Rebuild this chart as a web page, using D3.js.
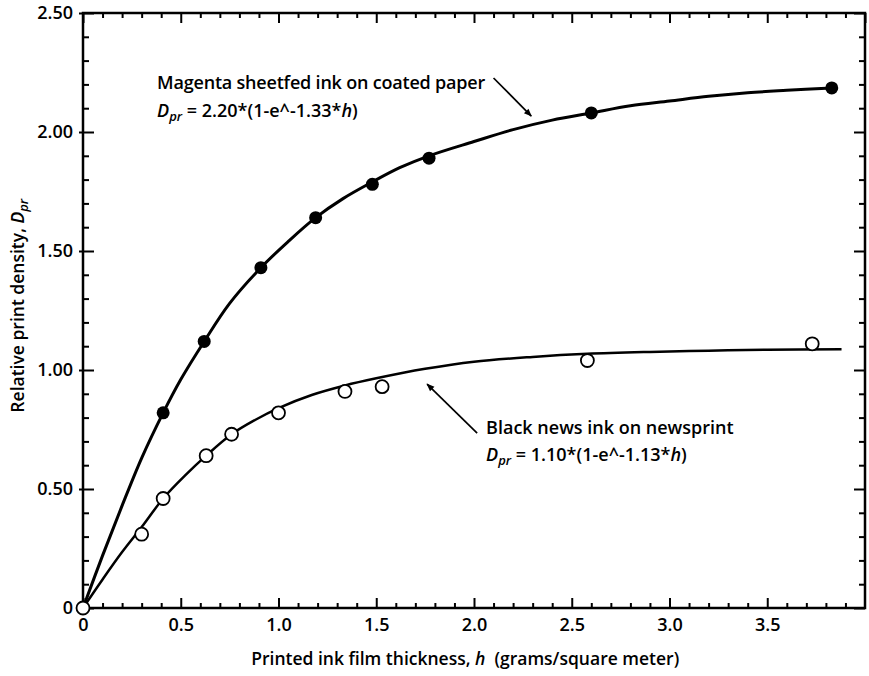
<!DOCTYPE html>
<html>
<head>
<meta charset="utf-8">
<script src="https://cdn.jsdelivr.net/npm/d3@7"></script>
<style>
  html, body { margin: 0; padding: 0; background: #fff; }
  svg { display: block; font-family: "Open Sans", "DejaVu Sans", sans-serif; }
</style>
</head>
<body>
<svg id="chart" width="869" height="676"></svg>
<script>
// ---- Data ----
// Magenta sheetfed ink on coated paper (filled circles)
const magentaH   = [0.41, 0.62, 0.91, 1.19, 1.48, 1.77, 2.60, 3.83];
const magentaD   = [0.82, 1.12, 1.43, 1.64, 1.78, 1.89, 2.08, 2.185];
// Black news ink on newsprint (open circles)
const blackH     = [0, 0.30, 0.41, 0.63, 0.76, 1.00, 1.34, 1.53, 2.58, 3.73];
const blackD     = [0, 0.31, 0.46, 0.64, 0.73, 0.82, 0.91, 0.93, 1.04, 1.11];
// Fitted curves as drawn
const magentaCurveH = [0, 0.1, 0.2, 0.3, 0.41, 0.5, 0.62, 0.75, 0.91, 1.05, 1.19, 1.33, 1.48, 1.62, 1.77, 2.0, 2.2, 2.4, 2.6, 2.8, 3.0, 3.2, 3.4, 3.6, 3.83];
const magentaCurveD = [0, 0.22, 0.43, 0.63, 0.82, 0.96, 1.12, 1.28, 1.43, 1.54, 1.64, 1.72, 1.79, 1.85, 1.90, 1.96, 2.01, 2.05, 2.08, 2.11, 2.13, 2.15, 2.165, 2.175, 2.185];
const blackCurveH   = [0, 0.1, 0.2, 0.3, 0.41, 0.52, 0.63, 0.76, 0.88, 1.0, 1.17, 1.34, 1.5, 1.75, 2.0, 2.3, 2.58, 2.9, 3.2, 3.5, 3.88];
const blackCurveD   = [0, 0.12, 0.235, 0.34, 0.46, 0.555, 0.64, 0.73, 0.79, 0.84, 0.895, 0.935, 0.965, 1.005, 1.035, 1.055, 1.068, 1.076, 1.081, 1.085, 1.087];
// Tick labels
const xTickValues = [0, 0.5, 1.0, 1.5, 2.0, 2.5, 3.0, 3.5];
const xTickLabels = ["0", "0.5", "1.0", "1.5", "2.0", "2.5", "3.0", "3.5"];
const yTickValues = [0, 0.5, 1.0, 1.5, 2.0, 2.5];
const yTickLabels = ["0", "0.50", "1.00", "1.50", "2.00", "2.50"];

const svg = d3.select("#chart");
const x = d3.scaleLinear().domain([0, 4]).range([83, 865]);
const y = d3.scaleLinear().domain([0, 2.5]).range([608, 13]);

const minorX = d3.range(0, 40).map(i => i / 10).filter(v => Math.round(v * 10) % 5 !== 0);
const minorY = d3.range(0, 25).map(i => i / 10).filter(v => Math.round(v * 10) % 5 !== 0);
const majorXAll = d3.range(0, 9).map(i => i * 0.5);
const majorYAll = d3.range(0, 6).map(i => i * 0.5);

function styleAxis(g) {
  g.selectAll("path.domain").remove();
  g.selectAll(".tick line").attr("stroke", "#000").attr("stroke-width", 2);
}

// minor ticks (inward) on all four sides
svg.append("g").attr("transform", `translate(0,${y(0)})`)
  .call(d3.axisBottom(x).tickValues(minorX).tickSize(-5).tickFormat(""))
  .call(styleAxis);
svg.append("g").attr("transform", `translate(0,${y(2.5)})`)
  .call(d3.axisTop(x).tickValues(minorX).tickSize(-5).tickFormat(""))
  .call(styleAxis);
svg.append("g").attr("transform", `translate(${x(0)},0)`)
  .call(d3.axisLeft(y).tickValues(minorY).tickSize(-6).tickFormat(""))
  .call(styleAxis);
svg.append("g").attr("transform", `translate(${x(4)},0)`)
  .call(d3.axisRight(y).tickValues(minorY).tickSize(-6).tickFormat(""))
  .call(styleAxis);

// major ticks
svg.append("g").attr("transform", `translate(0,${y(2.5)})`)
  .call(d3.axisTop(x).tickValues(majorXAll).tickSize(-10).tickFormat(""))
  .call(styleAxis);
svg.append("g").attr("transform", `translate(${x(4)},0)`)
  .call(d3.axisRight(y).tickValues(majorYAll).tickSize(-11).tickFormat(""))
  .call(styleAxis);
svg.append("g").attr("transform", `translate(0,${y(0)})`)
  .call(d3.axisBottom(x).tickValues(majorXAll.filter(v => v < 4)).tickSize(-10).tickFormat(""))
  .call(styleAxis);
svg.append("g").attr("transform", `translate(${x(0)},0)`)
  .call(d3.axisLeft(y).tickValues(majorYAll).tickSize(-11).tickFormat(""))
  .call(styleAxis);
svg.append("g").attr("transform", `translate(${x(0)},0)`)
  .call(d3.axisLeft(y).tickValues(majorYAll.filter(v => v > 0)).tickSize(4).tickFormat(""))
  .call(styleAxis);

// labelled axes
const xAxisG = svg.append("g").attr("transform", `translate(0,${y(0)})`)
  .call(d3.axisBottom(x).tickValues(xTickValues).tickSize(0).tickPadding(10)
    .tickFormat((d, i) => xTickLabels[i]));
xAxisG.select("path.domain").remove();
xAxisG.selectAll("text").attr("font-size", 18).attr("font-weight", 600).attr("fill", "#000")
  .attr("font-family", "'Open Sans', sans-serif");

const yAxisG = svg.append("g").attr("transform", `translate(${x(0)},0)`)
  .call(d3.axisLeft(y).tickValues(yTickValues).tickSize(0).tickPadding(10)
    .tickFormat((d, i) => yTickLabels[i]));
yAxisG.select("path.domain").remove();
yAxisG.selectAll("text").attr("font-size", 18).attr("font-weight", 600).attr("fill", "#000")
  .attr("font-family", "'Open Sans', sans-serif");

// frame
svg.append("rect")
  .attr("x", x(0)).attr("y", y(2.5))
  .attr("width", x(4) - x(0)).attr("height", y(0) - y(2.5))
  .attr("fill", "none").attr("stroke", "#000").attr("stroke-width", 2.5);

// curves
const line = d3.line().x(d => x(d[0])).y(d => y(d[1])).curve(d3.curveCatmullRom.alpha(0.5));
svg.append("path")
  .datum(d3.zip(magentaCurveH, magentaCurveD))
  .attr("d", line).attr("fill", "none").attr("stroke", "#000").attr("stroke-width", 3);
svg.append("path")
  .datum(d3.zip(blackCurveH, blackCurveD))
  .attr("d", line).attr("fill", "none").attr("stroke", "#000").attr("stroke-width", 2.5);

// points
svg.append("g").selectAll("circle")
  .data(d3.zip(magentaH, magentaD)).join("circle")
  .attr("cx", d => x(d[0])).attr("cy", d => y(d[1])).attr("r", 6.5)
  .attr("fill", "#000");
svg.append("g").selectAll("circle")
  .data(d3.zip(blackH, blackD)).join("circle")
  .attr("cx", d => x(d[0])).attr("cy", d => y(d[1])).attr("r", 6.5)
  .attr("fill", "#fff").attr("stroke", "#000").attr("stroke-width", 1.8);

// arrows
const defs = svg.append("defs");
defs.append("marker").attr("id", "ah").attr("viewBox", "0 0 10 10")
  .attr("refX", 9).attr("refY", 5).attr("markerWidth", 11).attr("markerHeight", 8)
  .attr("markerUnits", "userSpaceOnUse").attr("orient", "auto")
  .append("path").attr("d", "M0,1 L10,5 L0,9 Z").attr("fill", "#000");

const arrowFrom = [[2.10, 2.227], [2.016, 0.735]];
const arrowTo   = [[2.293, 2.067], [1.760, 0.941]];
arrowFrom.forEach((f, i) => {
  svg.append("line")
    .attr("x1", x(f[0])).attr("y1", y(f[1]))
    .attr("x2", x(arrowTo[i][0])).attr("y2", y(arrowTo[i][1]))
    .attr("stroke", "#000").attr("stroke-width", 1.7)
    .attr("marker-end", "url(#ah)");
});

// annotations
const annoFont = "'Open Sans', sans-serif";
function eqLine(xv, yv, coef, k) {
  const t = svg.append("text").attr("x", x(xv)).attr("y", y(yv))
    .attr("font-size", 18).attr("font-weight", 600).attr("font-family", annoFont);
  t.append("tspan").attr("font-style", "italic").text("D");
  t.append("tspan").attr("font-style", "italic").attr("font-size", 13).attr("dy", 4).text("pr");
  t.append("tspan").attr("dy", -4).text(` = ${coef}*(1-e^-${k}*`);
  t.append("tspan").attr("font-style", "italic").text("h");
  t.append("tspan").text(")");
}
svg.append("text").attr("x", x(0.379)).attr("y", y(2.181))
  .attr("font-size", 18).attr("font-weight", 600).attr("font-family", annoFont).attr("letter-spacing", "-0.2")
  .text("Magenta sheetfed ink on coated paper");
eqLine(0.379, 2.063, "2.20", "1.33");

svg.append("text").attr("x", x(2.062)).attr("y", y(0.731))
  .attr("font-size", 18).attr("font-weight", 600).attr("font-family", annoFont)
  .text("Black news ink on newsprint");
eqLine(2.062, 0.618, "1.10", "1.13");

// axis titles
const xt = svg.append("text").attr("x", x(1.955)).attr("y", 665).attr("text-anchor", "middle")
  .attr("font-size", 17.5).attr("font-weight", 600).attr("font-family", annoFont);
xt.append("tspan").text("Printed ink film thickness, ");
xt.append("tspan").attr("font-style", "italic").text("h");
xt.append("tspan").attr("xml:space", "preserve").text("  (grams/square meter)");

const yt = svg.append("text").attr("transform", `translate(24,${y(1.27)}) rotate(-90)`)
  .attr("text-anchor", "middle")
  .attr("font-size", 17.5).attr("font-weight", 600).attr("font-family", annoFont);
yt.append("tspan").text("Relative print density, ");
yt.append("tspan").attr("font-style", "italic").text("D");
yt.append("tspan").attr("font-style", "italic").attr("font-size", 13).attr("dy", 4).text("pr");
</script>
</body>
</html>
